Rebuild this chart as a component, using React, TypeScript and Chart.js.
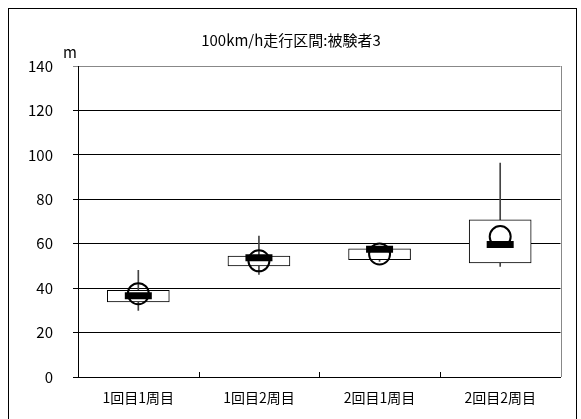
import React, { useEffect, useRef } from "react";
import { Chart, registerables } from "chart.js";

Chart.register(...registerables);

const categories = ["1回目1周目", "1回目2周目", "2回目1周目", "2回目2周目"];
const minValues = [30.0, 46.2, 52.0, 49.8];
const q1Values = [33.8, 50.0, 52.8, 51.4];
const medianValues = [36.6, 53.7, 57.5, 59.7];
const q3Values = [39.0, 54.4, 57.7, 70.7];
const maxValues = [48.0, 63.4, 58.5, 96.3];
const meanValues = [37.5, 52.3, 55.4, 63.2];
const yTicks = [0, 20, 40, 60, 80, 100, 120, 140];

const titleText = "100km/h走行区間:被験者3";
const unitText = "m";
const FONT = "'Noto Sans CJK JP', 'Noto Sans', sans-serif";

// Frame, title, unit label, right plot edge and category separator ticks
const decorPlugin = {
  id: "decor",
  beforeDraw(chart: any) {
    const { ctx, width, height } = chart;
    ctx.save();
    ctx.fillStyle = "#ffffff";
    ctx.fillRect(0, 0, width, height);
    ctx.restore();
  },
  afterDraw(chart: any) {
    const { ctx, chartArea } = chart;
    const xs = chart.scales.x;
    ctx.save();
    ctx.strokeStyle = "#000000";
    ctx.lineWidth = 1;
    ctx.strokeRect(8.5, 8.5, 568, 430);
    ctx.strokeStyle = "#888888";
    ctx.beginPath();
    ctx.moveTo(Math.round(chartArea.right) + 0.5, chartArea.top);
    ctx.lineTo(Math.round(chartArea.right) + 0.5, chartArea.bottom);
    ctx.stroke();
    ctx.strokeStyle = "#000000";
    for (let i = 1; i < categories.length; i++) {
      const x = Math.round((xs.getPixelForTick(i - 1) + xs.getPixelForTick(i)) / 2) + 0.5;
      ctx.beginPath();
      ctx.moveTo(x, chartArea.bottom);
      ctx.lineTo(x, chartArea.bottom - 5);
      ctx.stroke();
    }
    ctx.fillStyle = "#000000";
    ctx.textAlign = "center";
    ctx.textBaseline = "middle";
    ctx.font = `15px ${FONT}`;
    ctx.fillText(titleText, 291, 40);
    ctx.fillText(unitText, 70, 52);
    ctx.restore();
  },
};

export default function App() {
  const canvasRef = useRef<HTMLCanvasElement | null>(null);

  useEffect(() => {
    if (!canvasRef.current) return;
    const chart = new Chart(canvasRef.current, {
      type: "bar",
      data: {
        labels: categories,
        datasets: [
          {
            type: "line",
            label: "mean",
            data: meanValues,
            showLine: false,
            pointStyle: "circle",
            pointRadius: 10.5,
            pointBorderWidth: 2,
            pointBorderColor: "#000000",
            pointBackgroundColor: "rgba(0,0,0,0)",
            order: 0,
          },
          {
            type: "line",
            label: "median",
            data: medianValues,
            showLine: false,
            pointStyle: "line",
            pointRadius: 13.5,
            pointBorderWidth: 7,
            pointBorderColor: "#000000",
            order: 1,
          },
          {
            type: "bar",
            label: "box",
            data: q1Values.map((v, i) => [v, q3Values[i]]),
            backgroundColor: "#ffffff",
            borderColor: "#000000",
            borderWidth: 1,
            borderSkipped: false,
            barThickness: 62,
            grouped: false,
            order: 2,
          },
          {
            type: "bar",
            label: "whisker",
            data: minValues.map((v, i) => [v, maxValues[i]]),
            backgroundColor: "#444444",
            borderWidth: 0,
            barThickness: 1,
            grouped: false,
            order: 3,
          },
        ] as any,
      },
      options: {
        animation: false,
        responsive: false,
        maintainAspectRatio: false,
        layout: { padding: { left: 0, right: 12, top: 66, bottom: 10 } },
        plugins: {
          legend: { display: false },
          tooltip: { enabled: false },
          title: { display: false },
        },
        scales: {
          x: {
            offset: true,
            grid: { display: false, drawTicks: false },
            border: { display: true, color: "#000000", width: 1 },
            ticks: {
              color: "#000000",
              font: { family: FONT, size: 14 },
              padding: 12,
              maxRotation: 0,
              autoSkip: false,
            },
            afterFit: (scale: any) => {
              scale.height = 32;
            },
          },
          y: {
            min: 0,
            max: 140,
            afterBuildTicks: (scale: any) => {
              scale.ticks = yTicks.map((v) => ({ value: v }));
            },
            grid: {
              color: (c: any) => (c.tick && c.tick.value === 140 ? "#888888" : "#000000"),
              lineWidth: 1,
              drawTicks: true,
              tickLength: 5,
            },
            border: { display: true, color: "#000000", width: 1 },
            ticks: {
              color: "#000000",
              font: { family: FONT, size: 15 },
              padding: 20,
            },
            afterFit: (scale: any) => {
              scale.width = 78;
            },
          },
        },
      },
      plugins: [decorPlugin],
    });
    return () => chart.destroy();
  }, []);

  return (
    <div style={{ position: "absolute", left: 0, top: 0, width: 581, height: 419, overflow: "hidden" }}>
      <canvas ref={canvasRef} width={581} height={419} style={{ display: "block" }} />
    </div>
  );
}
